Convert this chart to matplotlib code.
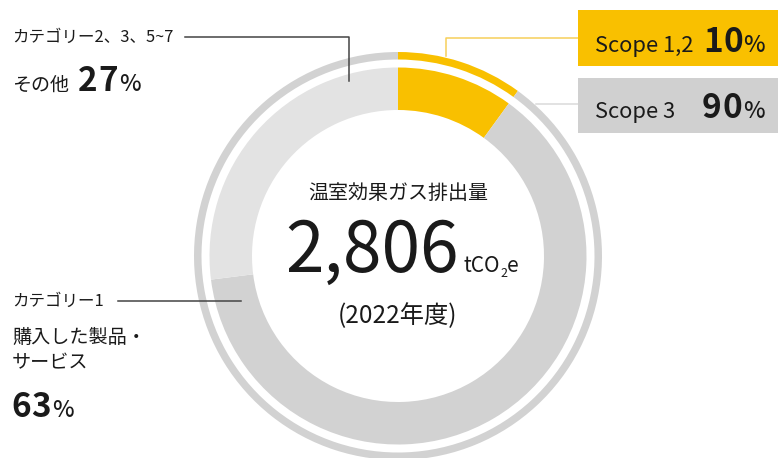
import matplotlib
matplotlib.use("Agg")
import matplotlib.pyplot as plt

plt.rcParams['font.family'] = ['Noto Sans CJK JP', 'DejaVu Sans']

# Data
scope_labels = ["Scope 1,2", "Scope 3"]
scope_values = [10, 90]
category_labels = ["Scope 1,2", "カテゴリー1", "カテゴリー2、3、5~7"]
category_values = [10, 63, 27]
total_emission = "2,806"
year_label = "(2022年度)"

W, H = 778, 458
YELLOW = "#F9C000"
GRAY = "#D2D2D2"
LIGHT = "#E3E3E3"
TEXT = "#1a1a1a"
LINE = "#444444"

fig = plt.figure(figsize=(W / 100, H / 100), dpi=100)
ax = fig.add_axes([0, 0, 1, 1])
renderer = fig.canvas.get_renderer()


def Y(y):
    return H - y


def spaced(x, y, s, spacing, **kw):
    """Draw a string char by char with extra tracking; returns the right edge."""
    for ch in s:
        t = ax.text(x, Y(y), ch, va="baseline", ha="left", color=TEXT, **kw)
        w = t.get_window_extent(renderer).width
        x += w + spacing
    return x - spacing


cx, cy = 398, 256

# outer thin ring: scope split
ax.pie(scope_values, colors=[YELLOW, GRAY], startangle=90, counterclock=False,
       radius=204, center=(cx, Y(cy)),
       wedgeprops=dict(width=7.5, edgecolor="none", linewidth=0))
# inner thick ring: category split
ax.pie(category_values, colors=[YELLOW, GRAY, LIGHT], startangle=90, counterclock=False,
       radius=188.5, center=(cx, Y(cy)),
       wedgeprops=dict(width=42.5, edgecolor="none", linewidth=0))

ax.set_xlim(0, W)
ax.set_ylim(0, H)
ax.set_aspect("auto")
ax.axis("off")

# ---- Scope boxes (top right) ----
ax.add_patch(plt.Rectangle((578, Y(66)), W - 578, 56, color=YELLOW, lw=0, zorder=3))
ax.add_patch(plt.Rectangle((578, Y(133)), W - 578, 55, color="#D0D0D0", lw=0, zorder=3))

# leader lines for scopes
ax.plot([446.5, 446.5, 578], [Y(56), Y(38), Y(38)], color="#F7CF5A", lw=1.1, zorder=2)
ax.plot([536, 578], [Y(104), Y(104)], color="#DADADA", lw=1.1, zorder=2)

NUM = dict(fontsize=24, fontweight="bold", zorder=4)
PCT = dict(fontsize=16.5, fontweight="medium", zorder=4)

ax.text(595, Y(52), scope_labels[0], fontsize=15.8, color=TEXT, va="baseline", ha="left", zorder=4)
spaced(703, 52, f"{scope_values[0]}", 1, **NUM)
ax.text(743, Y(52), "%", color=TEXT, va="baseline", ha="left", **PCT)

ax.text(595, Y(118), scope_labels[1], fontsize=15.8, color=TEXT, va="baseline", ha="left", zorder=4)
spaced(702, 118, f"{scope_values[1]}", 1, **NUM)
ax.text(743, Y(118), "%", color=TEXT, va="baseline", ha="left", **PCT)

# ---- Category 2,3,5-7 (top left) ----
ax.plot([185, 349, 349], [Y(37), Y(37), Y(81)], color=LINE, lw=1.1, zorder=2)
ax.text(12, Y(42), category_labels[2], fontsize=11.9, color=TEXT, va="baseline", ha="left")
ax.text(12, Y(91), "その他", fontsize=13.7, color=TEXT, va="baseline", ha="left")
spaced(78, 91, f"{category_values[2]}", 1, **NUM)
ax.text(119, Y(91), "%", color=TEXT, va="baseline", ha="left", **PCT)

# ---- Category 1 (bottom left) ----
ax.plot([118, 241], [Y(301), Y(301)], color=LINE, lw=1.1, zorder=2)
ax.text(12, Y(306), category_labels[1], fontsize=11.9, color=TEXT, va="baseline", ha="left")
ax.text(12, Y(343), "購入した製品・", fontsize=13.75, color=TEXT, va="baseline", ha="left")
ax.text(12, Y(368), "サービス", fontsize=13.75, color=TEXT, va="baseline", ha="left")
spaced(11, 417, f"{category_values[1]}", 1, **NUM)
ax.text(52, Y(417), "%", color=TEXT, va="baseline", ha="left", **PCT)

# ---- Center text ----
ax.text(cx, Y(199), "温室効果ガス排出量", fontsize=14.4, color=TEXT, va="baseline", ha="center")
ax.text(285, Y(272), total_emission, fontsize=50, color=TEXT, va="baseline", ha="left")
ax.text(464, Y(272), "tCO", fontsize=15, color=TEXT, va="baseline", ha="left")
ax.text(500, Y(277), "2", fontsize=9, color=TEXT, va="baseline", ha="left")
ax.text(507, Y(272), "e", fontsize=15, color=TEXT, va="baseline", ha="left")
ax.text(cx, Y(323), year_label, fontsize=17.5, color=TEXT, va="baseline", ha="center")

fig.savefig("out.png", dpi=100)
